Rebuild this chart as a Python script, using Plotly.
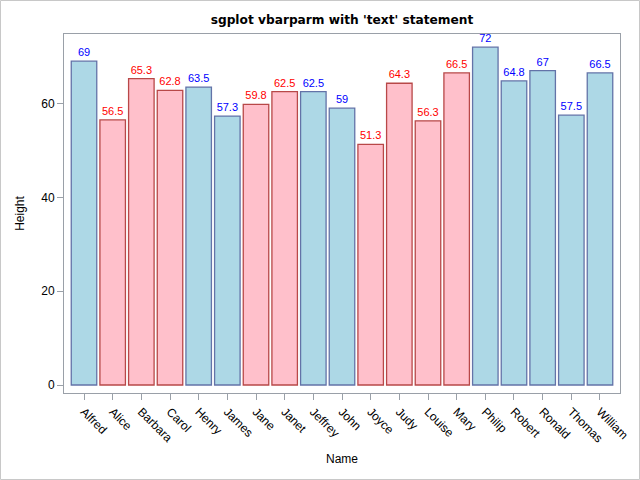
import plotly.graph_objects as go

names = ["Alfred", "Alice", "Barbara", "Carol", "Henry", "James", "Jane", "Janet",
         "Jeffrey", "John", "Joyce", "Judy", "Louise", "Mary", "Philip", "Robert",
         "Ronald", "Thomas", "William"]
heights = [69, 56.5, 65.3, 62.8, 63.5, 57.3, 59.8, 62.5, 62.5, 59, 51.3, 64.3,
           56.3, 66.5, 72, 64.8, 67, 57.5, 66.5]
sex = ["M", "F", "F", "F", "M", "M", "F", "F", "M", "M", "F", "F", "F", "F",
       "M", "M", "M", "M", "M"]
yticks = [0, 20, 40, 60]

styles = {
    "M": dict(fill="#ADD8E6", line="#6373A8", text="#0000FF"),
    "F": dict(fill="#FFC0CB", line="#B84848", text="#FF0000"),
}

fig = go.Figure()
for s in ["M", "F"]:
    xs = [n for n, g in zip(names, sex) if g == s]
    ys = [h for h, g in zip(heights, sex) if g == s]
    st = styles[s]
    fig.add_trace(go.Bar(
        x=xs, y=ys, text=[f"{v:g}" for v in ys], textposition="outside",
        textfont=dict(color=st["text"], size=11, family="Liberation Sans"),
        marker=dict(color=st["fill"], line=dict(color=st["line"], width=1.3)),
        width=0.89, cliponaxis=False, showlegend=False, hoverinfo="skip",
    ))

L, R, T, B = 64, 20, 34, 87
W, H = 640, 480
pw, ph = W - L - R, H - T - B
axis_color = "#9AA0A8"
fig.update_layout(
    width=W, height=H,
    margin=dict(l=L, r=R, t=T, b=B, autoexpand=False),
    paper_bgcolor="white", plot_bgcolor="white",
    barmode="overlay",
    title=dict(text="<b>sgplot vbarparm with 'text' statement</b>",
               x=(L + pw / 2) / W, xanchor="center", y=1 - 20 / H, yanchor="middle",
               font=dict(family="DejaVu Sans", size=12.2, color="black")),
    font=dict(family="Liberation Sans", size=12, color="black"),
    xaxis=dict(
        categoryorder="array", categoryarray=names,
        range=[-0.698, 18.698], tickangle=45, automargin=False,
        ticks="outside", ticklen=6, tickcolor=axis_color,
        showline=True, linecolor=axis_color, mirror=True, showgrid=False,
        title=dict(text="Name", font=dict(size=12), standoff=10),
        tickfont=dict(size=12),
    ),
    yaxis=dict(
        range=[-1.7, 74.8], tickvals=yticks, automargin=False,
        ticks="outside", ticklen=6, tickcolor=axis_color,
        showline=True, linecolor=axis_color, mirror=True, showgrid=False,
        zeroline=False,
        title=dict(text="Height", font=dict(size=12), standoff=14),
        tickfont=dict(size=12),
    ),
    shapes=[dict(type="rect", xref="paper", yref="paper",
                 x0=(0.5 - L) / pw, x1=(W - 0.5 - L) / pw,
                 y0=(0.5 - B) / ph, y1=(H - 0.5 - B) / ph,
                 line=dict(color="#C8C8C8", width=1), layer="below")],
)
fig.write_html("out.html", config={"displayModeBar": False},
               post_script="document.body.style.margin='0';document.body.style.overflow='hidden';")
